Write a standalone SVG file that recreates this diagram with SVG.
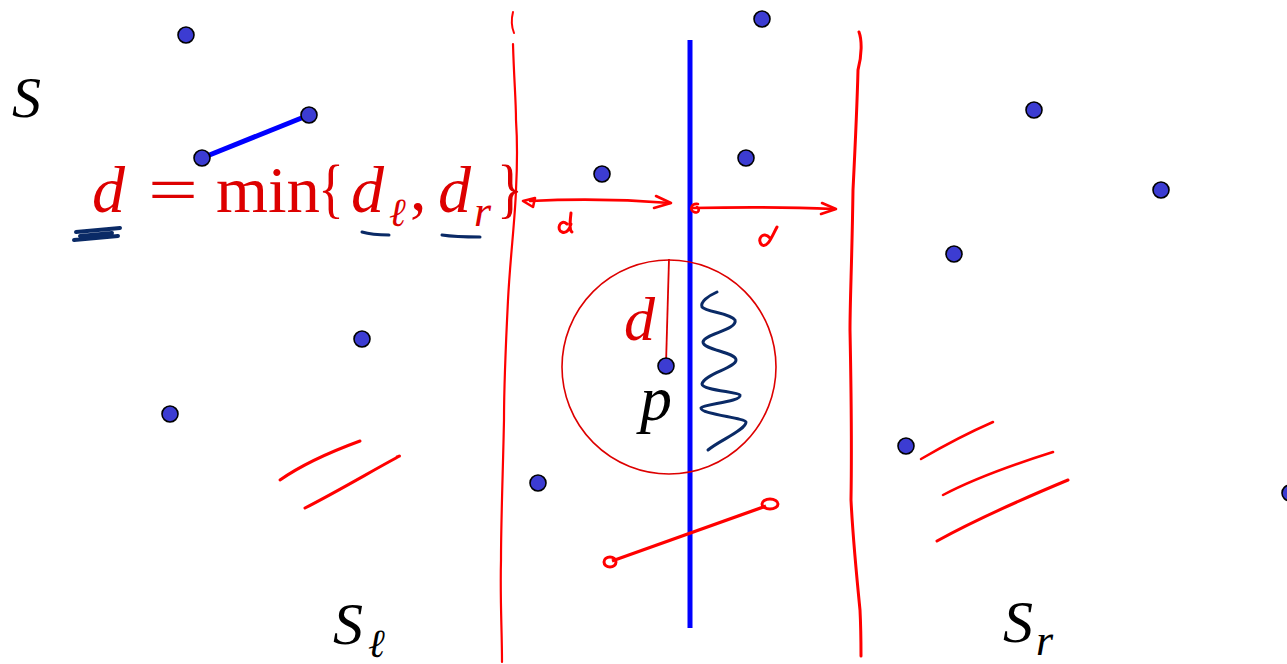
<svg xmlns="http://www.w3.org/2000/svg" width="1287" height="664" viewBox="0 0 1287 664">
<style>
.pt{fill:#3c3cd2;stroke:#000;stroke-width:1.6}
.ink{fill:none;stroke:#ff0000;stroke-linecap:round;stroke-linejoin:round}
.navy{fill:none;stroke:#0a2a66;stroke-linecap:round;stroke-linejoin:round}
.math{font-family:"Liberation Serif",serif;font-style:italic}
.rm{font-family:"Liberation Serif",serif}
.red{fill:#dd0000}
</style>
<rect width="1287" height="664" fill="#fff"/>
<g id="strips">
<path class="ink" stroke-width="2" d="M513,12 C511,20 512,28 514,33"/>
<path class="ink" stroke-width="2.2" d="M513,44 C514,80 516,100 516,120 C518,150 517,170 516,190 C515,220 510,260 508,300 C506,340 504,380 504,420 C503,470 501,520 501,560 C500,600 502,630 502,662"/>
<path class="ink" stroke-width="3" d="M859,32 C862,40 862,55 858,70 C857,110 855,150 853,190 C852,260 850,300 850,330 C851,380 852,440 851,500 C853,540 857,580 860,610 C861,630 861,645 861,656"/>
</g>
<g id="divider">
<line x1="690" y1="40" x2="690" y2="628" stroke="#0000ff" stroke-width="5"/>
</g>
<g id="circle">
<circle cx="669" cy="367" r="107" fill="none" stroke="#dd0000" stroke-width="1.6"/>
<line x1="669" y1="259" x2="666" y2="364" stroke="#dd0000" stroke-width="1.8"/>
<text x="624" y="340" class="math red" font-size="62">d</text>
<text x="640" y="420" class="math" font-size="64" fill="#000">p</text>
<path class="navy" stroke-width="3" d="M717,292 C708,296 700,302 702,307 C706,312 730,313 735,320 C738,330 704,334 703,342 C703,350 736,352 736,360 C736,368 704,374 702,384 C702,390 738,392 740,395 C742,402 703,404 701,408 C700,414 745,418 746,422 C746,430 720,440 708,450"/>
</g>
<g id="pairline">
<line x1="202" y1="158" x2="309" y2="115" stroke="#0000ff" stroke-width="5"/>
</g>
<g id="points">
<circle class="pt" cx="186" cy="35" r="8"/>
<circle class="pt" cx="762" cy="19" r="8"/>
<circle class="pt" cx="1034" cy="110" r="8"/>
<circle class="pt" cx="309" cy="115" r="8"/>
<circle class="pt" cx="202" cy="158" r="8"/>
<circle class="pt" cx="602" cy="174" r="8"/>
<circle class="pt" cx="746" cy="158" r="8"/>
<circle class="pt" cx="1161" cy="190" r="8"/>
<circle class="pt" cx="954" cy="254" r="8"/>
<circle class="pt" cx="362" cy="339" r="8"/>
<circle class="pt" cx="666" cy="366" r="8"/>
<circle class="pt" cx="170" cy="414" r="8"/>
<circle class="pt" cx="906" cy="446" r="8"/>
<circle class="pt" cx="538" cy="483" r="8"/>
<circle class="pt" cx="1290" cy="493" r="8"/>
</g>
<g id="formula">
<text x="92" y="212" class="math red" font-size="66">d</text>
<text x="148" y="212" class="rm red" font-size="66" textLength="50" lengthAdjust="spacingAndGlyphs">=</text>
<text x="216" y="212" class="rm red" font-size="66" textLength="104" lengthAdjust="spacingAndGlyphs">min</text>
<text x="318" y="210" class="rm red" font-size="66" textLength="26" lengthAdjust="spacingAndGlyphs">{</text>
<text x="351" y="212" class="math red" font-size="66">d</text>
<text x="389" y="226" class="math red" font-size="40">ℓ</text>
<text x="410" y="210" class="rm red" font-size="66">,</text>
<text x="438" y="212" class="math red" font-size="66">d</text>
<text x="474" y="226" class="math red" font-size="44">r</text>
<text x="497" y="210" class="rm red" font-size="66" textLength="26" lengthAdjust="spacingAndGlyphs">}</text>
<path class="navy" stroke-width="4" d="M76,232 L120,228 M74,240 L118,236 M80,236 L112,233"/>
<path class="navy" stroke-width="3" d="M362,232 C372,235 380,235 389,235"/>
<path class="navy" stroke-width="3" d="M442,235 C455,237 468,237 480,237"/>
</g>
<g id="arrows">
<path class="ink" stroke-width="2.6" d="M530,201 C570,199 620,199 670,203"/>
<path class="ink" stroke-width="2.6" d="M656,196 L671,203 L654,208"/>
<path class="ink" stroke-width="2.6" d="M523,201 L535,198 L533,207 Z"/>
<path class="ink" stroke-width="3" d="M567,224 C560,218 556,230 562,232 C567,234 570,228 571,224 M571,213 C570,222 569,230 572,232"/>
<path class="ink" stroke-width="2.6" d="M692,208 C740,207 790,207 834,209"/>
<path class="ink" stroke-width="2.6" d="M822,203 L836,209 L821,214"/>
<path class="ink" stroke-width="2.6" d="M698,204 C691,203 689,210 694,212 C699,214 700,209 697,207"/>
<path class="ink" stroke-width="3" d="M770,238 C763,230 756,240 762,245 C768,248 772,236 777,227"/>
</g>
<g id="hatches">
<path class="ink" stroke-width="3" d="M280,480 C300,466 330,452 360,441"/>
<path class="ink" stroke-width="3" d="M305,508 C340,490 370,472 396,458 C401,455 400,456 397,457"/>
<path class="ink" stroke-width="2.5" d="M921,459 C945,445 970,432 993,422"/>
<path class="ink" stroke-width="2.5" d="M943,495 C975,478 1015,464 1053,452"/>
<path class="ink" stroke-width="3" d="M937,541 C975,520 1020,500 1068,480"/>
</g>
<g id="crossing">
<line x1="612" y1="561" x2="766" y2="506" stroke="#ff0000" stroke-width="3.2"/>
<ellipse cx="610" cy="562" rx="6" ry="5" fill="none" stroke="#ff0000" stroke-width="3"/>
<ellipse cx="770" cy="504" rx="8" ry="5" fill="none" stroke="#ff0000" stroke-width="3"/>
</g>
<g id="labels">
<text x="12" y="117" class="math" font-size="58" fill="#000">S</text>
<text x="333" y="644" class="math" font-size="60" fill="#000">S</text>
<text x="368" y="657" class="math" font-size="40" fill="#000">ℓ</text>
<text x="1003" y="642" class="math" font-size="60" fill="#000">S</text>
<text x="1036" y="655" class="math" font-size="44" fill="#000">r</text>
</g>
</svg>
